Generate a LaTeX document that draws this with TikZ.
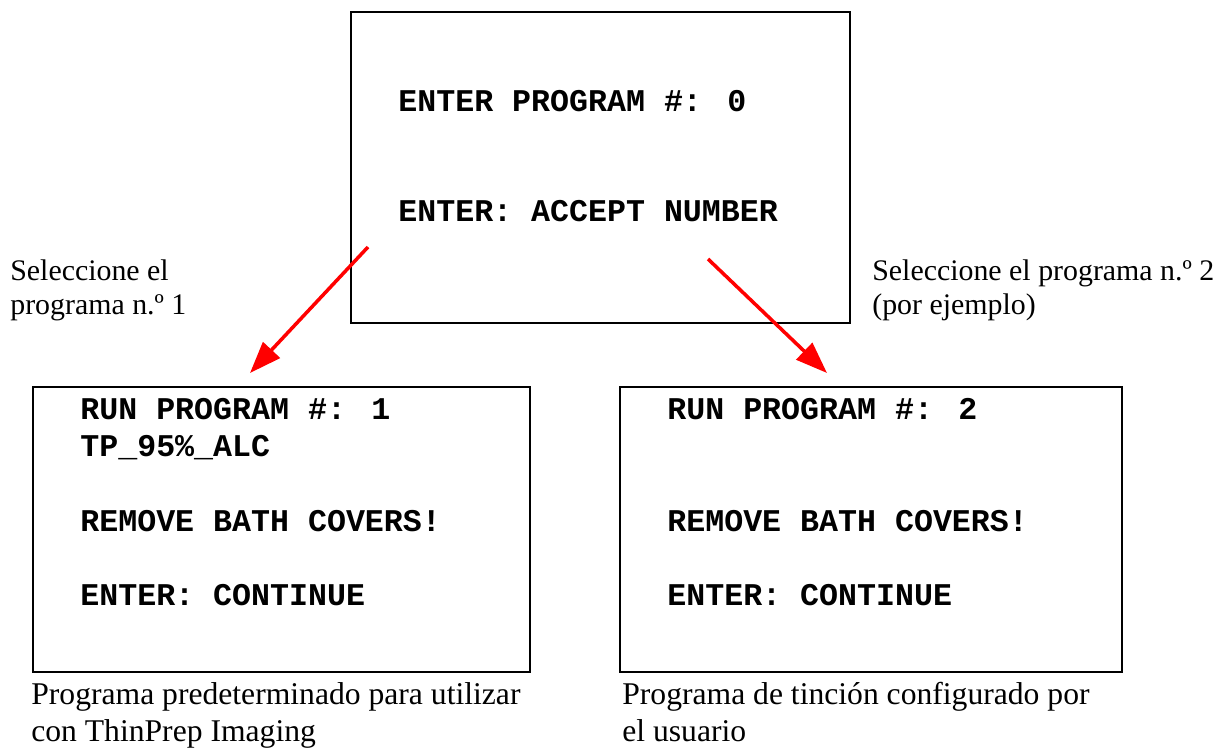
\documentclass[tikz,border=0pt]{standalone}
\usepackage{fontspec}
\setmainfont{Liberation Serif}
\newfontfamily\lcdfont{Liberation Mono}
\usepackage{tikz}
\usetikzlibrary{arrows.meta,positioning}

\begin{document}
\begin{tikzpicture}[x=0.02cm, y=-0.02cm,
  screen/.style={draw, rectangle, line width=1.2pt, inner sep=0pt},
  lcd/.style={anchor=base west, inner sep=0pt, font=\lcdfont\bfseries\fontsize{18}{22}\selectfont},
  note/.style={anchor=base west, inner sep=0pt, align=left, font=\fontsize{17}{19}\selectfont},
  caption/.style={anchor=base west, inner sep=0pt, align=left, font=\fontsize{18}{21}\selectfont},
  pick/.style={draw=red, line width=2pt, -{Triangle[length=18pt,width=13pt]}}]
  \useasboundingbox (0,0) rectangle (1223,747);

  % Program entry screen
  \node[screen, minimum width=9.98cm, minimum height=6.22cm] (entry) at (600.5,167.5) {};
  \node[lcd] (entry1) at (398,111) {ENTER PROGRAM \#: 0};
  \node[lcd] (entry2) at (398,221) {ENTER: ACCEPT NUMBER};

  % Program 1 screen
  \node[screen, minimum width=9.94cm, minimum height=5.7cm] (runA) at (281.5,529.5) {};
  \node[lcd] (runA1) at (80,419) {RUN PROGRAM \#: 1};
  \node[lcd] (runA2) at (80,456) {TP\_95\%\_ALC};
  \node[lcd] (runA3) at (80,531) {REMOVE BATH COVERS!};
  \node[lcd] (runA4) at (80,605) {ENTER: CONTINUE};

  % Program 2 screen
  \node[screen, minimum width=10.04cm, minimum height=5.7cm] (runB) at (871,529.5) {};
  \node[lcd] (runB1) at (667,419) {RUN PROGRAM \#: 2};
  \node[lcd] (runB3) at (667,531) {REMOVE BATH COVERS!};
  \node[lcd] (runB4) at (667,605) {ENTER: CONTINUE};

  % Side notes (base = last line)
  \node[note] (selA) at (10,314) {Seleccione el\\programa n.º 1};
  \node[note] (selB) at (872,314) {Seleccione el programa n.º 2\\(por ejemplo)};

  % Captions
  \node[caption] (capA) at (31,741) {Programa predeterminado para utilizar\\con ThinPrep Imaging};
  \node[caption] (capB) at (622,741) {Programa de tinción configurado por\\el usuario};

  % Selection arrows
  \coordinate (fromA) at (368,247);
  \coordinate (toA) at (250,373);
  \coordinate (fromB) at (708,259);
  \coordinate (toB) at (827,373);
  \draw[pick] (fromA) -- (toA);
  \draw[pick] (fromB) -- (toB);
\end{tikzpicture}
\end{document}
